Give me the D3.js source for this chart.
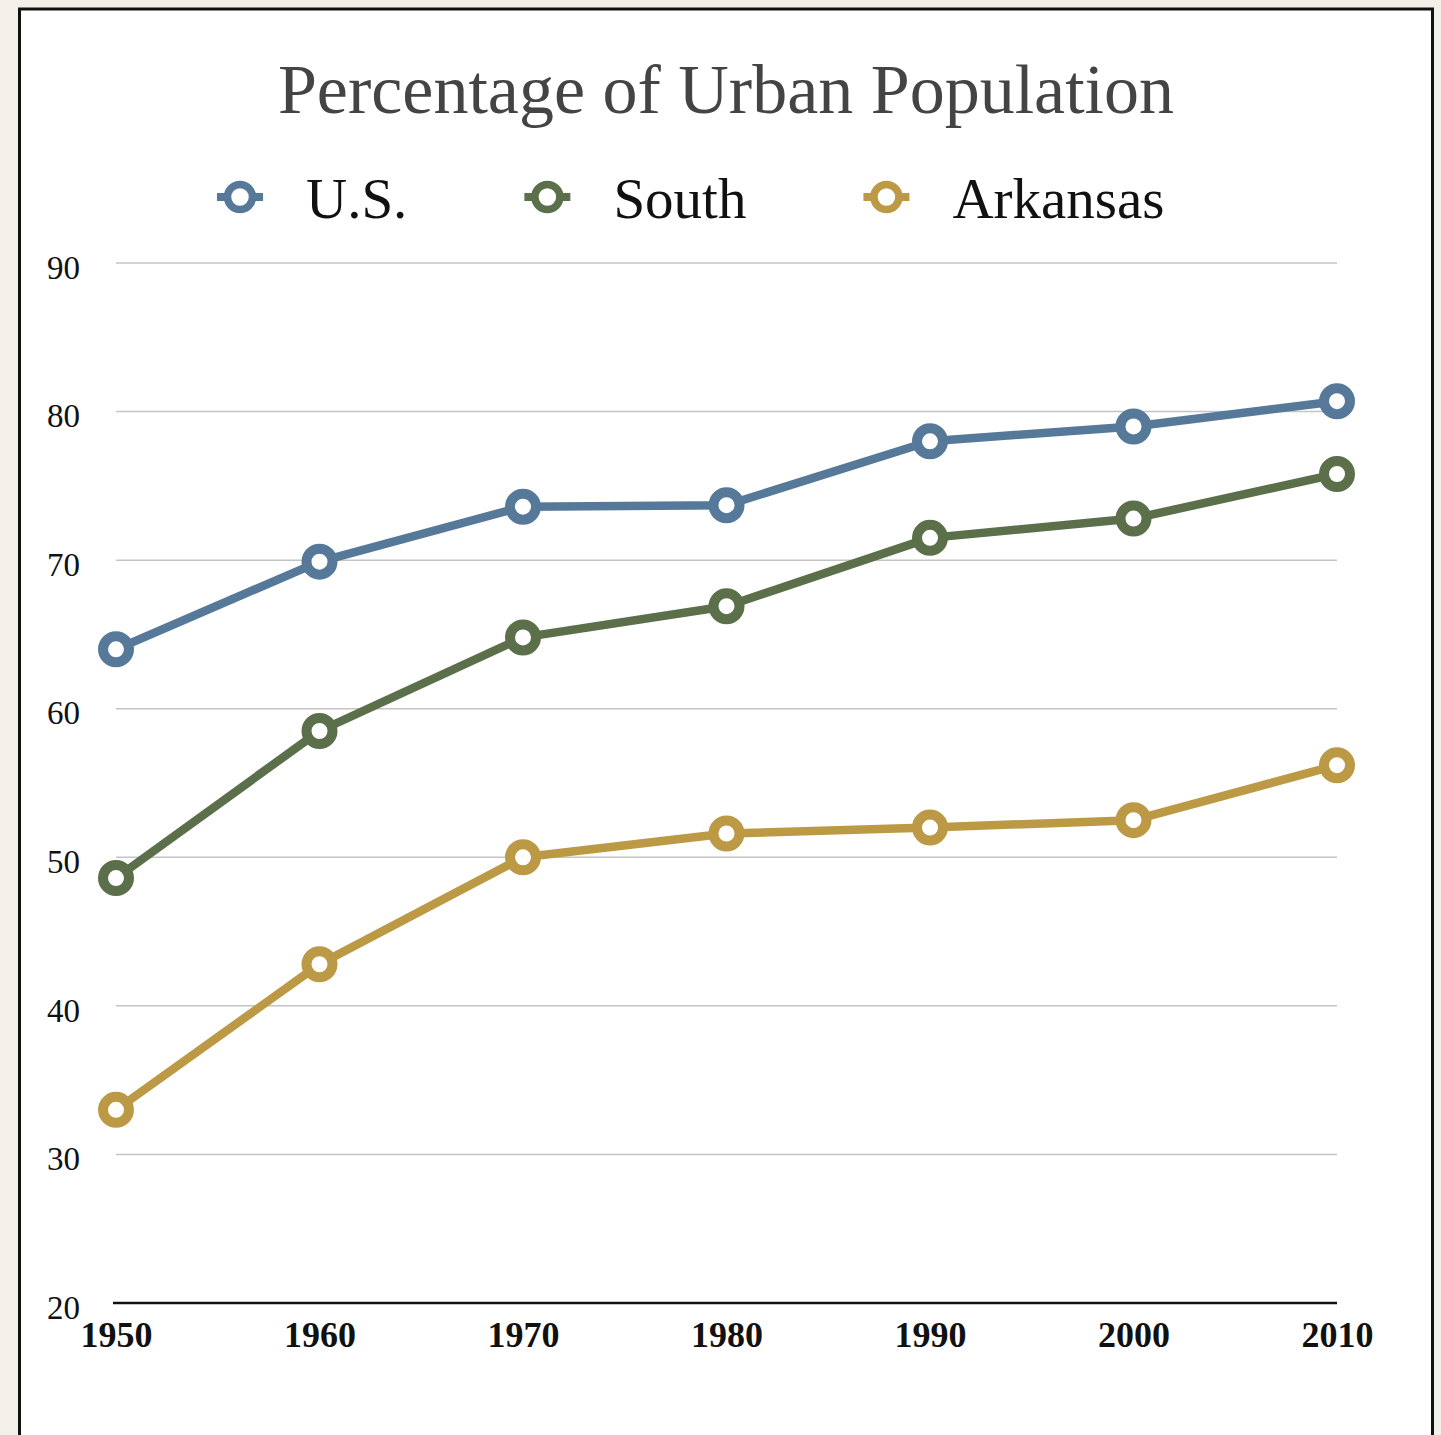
<!DOCTYPE html>
<html>
<head>
<meta charset="utf-8">
<script src="https://cdn.jsdelivr.net/npm/d3@7"></script>
<style>
    body { margin: 0; background: #f3f0e9; }
    svg { display: block; }
    text { font-family: "Liberation Serif", "Times New Roman", serif; }
</style>
</head>
<body>
<div id="chart"></div>
<script>
// Percentage of urban population, 1950 - 2010

const years = [1950, 1960, 1970, 1980, 1990, 2000, 2010];
const usValues = [64.0, 69.9, 73.6, 73.7, 78.0, 79.0, 80.7];
const southValues = [48.6, 58.5, 64.8, 66.9, 71.5, 72.8, 75.8];
const arkansasValues = [33.0, 42.8, 50.0, 51.6, 52.0, 52.5, 56.2];
const seriesNames = ["U.S.", "South", "Arkansas"];
const yTicks = [20, 30, 40, 50, 60, 70, 80, 90];
const titleText = "Percentage of Urban Population";

let width = 1441,
    height = 1435,
    plotLeft = 116,
    plotRight = 1337,
    plotTop = 263,
    plotBottom = 1303,
    lineWidth = 8.5,
    markerRadius = 13,
    markerStroke = 10;

let colors = ["#56799a", "#5a6f4a", "#bc9a45"];

let series = seriesNames.map((name, i) => ({
    name: name,
    color: colors[i],
    values: [usValues, southValues, arkansasValues][i].map((v, j) => ({ year: years[j], value: v }))
}));

let svg = d3.select("#chart").append("svg")
    .attr("width", width)
    .attr("height", height);

// Panel
// ---------------------------------------------------------

svg.append("rect")
    .attr("x", 19.5)
    .attr("y", 9)
    .attr("width", 1413)
    .attr("height", 1450)
    .attr("fill", "white")
    .attr("stroke", "#111")
    .attr("stroke-width", 3);

// Scales
// ---------------------------------------------------------

let x = d3.scaleLinear()
    .domain([years[0], years[years.length - 1]])
    .range([plotLeft, plotRight]);

let y = d3.scaleLinear()
    .domain([yTicks[0], yTicks[yTicks.length - 1]])
    .range([plotBottom, plotTop]);

// Gridlines
// ---------------------------------------------------------

svg.append("g")
    .attr("class", "grid")
    .selectAll("line")
    .data(yTicks.slice(1))
    .enter()
    .append("line")
        .attr("x1", plotLeft)
        .attr("x2", plotRight)
        .attr("y1", d => y(d))
        .attr("y2", d => y(d))
        .attr("stroke", "#c4c4c4")
        .attr("stroke-width", 1.5);

svg.append("line")
    .attr("x1", plotLeft - 3)
    .attr("x2", plotRight)
    .attr("y1", y(yTicks[0]))
    .attr("y2", y(yTicks[0]))
    .attr("stroke", "#111")
    .attr("stroke-width", 2.5);

// Axes
// ---------------------------------------------------------

let yAxis = svg.append("g")
    .attr("transform", `translate(${plotLeft},0)`)
    .call(d3.axisLeft(y).tickValues(yTicks).tickSize(0).tickPadding(36));

yAxis.select(".domain").remove();
yAxis.selectAll("text")
    .attr("font-family", "Liberation Serif")
    .attr("font-size", 33)
    .attr("fill", "#111")
    .attr("dy", "0.46em");

let xAxis = svg.append("g")
    .attr("transform", `translate(0,${plotBottom})`)
    .call(d3.axisBottom(x).tickValues(years).tickFormat(d3.format("d")).tickSize(0).tickPadding(18));

xAxis.select(".domain").remove();
xAxis.selectAll("text")
    .attr("font-family", "Liberation Serif")
    .attr("font-size", 36)
    .attr("font-weight", "bold")
    .attr("fill", "#111");

// Lines and markers
// ---------------------------------------------------------

let lineGen = d3.line()
    .x(d => x(d.year))
    .y(d => y(d.value));

let seriesGroups = svg.selectAll(".series")
    .data(series)
    .enter()
    .append("g")
        .attr("class", "series");

seriesGroups.append("path")
    .attr("d", d => lineGen(d.values))
    .attr("fill", "none")
    .attr("stroke", d => d.color)
    .attr("stroke-width", lineWidth)
    .attr("stroke-linejoin", "round");

seriesGroups.selectAll("circle")
    .data(d => d.values.map(v => ({ ...v, color: d.color })))
    .enter()
    .append("circle")
        .attr("cx", d => x(d.year))
        .attr("cy", d => y(d.value))
        .attr("r", markerRadius)
        .attr("fill", "white")
        .attr("stroke", d => d.color)
        .attr("stroke-width", markerStroke);

// Title
// ---------------------------------------------------------

svg.append("text")
    .attr("x", 726)
    .attr("y", 113)
    .attr("text-anchor", "middle")
    .attr("font-size", 70)
    .attr("fill", "#444")
    .text(titleText);

// Legend
// ---------------------------------------------------------

let legendY = 197,
    legendX = 240,
    legendTextGap = 66,
    legendItemGap = 140;

series.forEach(s => {
    let item = svg.append("g")
        .attr("class", "legendItem")
        .attr("transform", `translate(${legendX},${legendY})`);

    item.append("line")
        .attr("x1", -23)
        .attr("x2", 23)
        .attr("stroke", s.color)
        .attr("stroke-width", 8);

    item.append("circle")
        .attr("r", 12.5)
        .attr("fill", "white")
        .attr("stroke", s.color)
        .attr("stroke-width", 7.5);

    let label = item.append("text")
        .attr("x", legendTextGap)
        .attr("y", 21)
        .attr("font-size", 57)
        .attr("fill", "#111")
        .text(s.name);

    legendX += legendTextGap + label.node().getComputedTextLength() + legendItemGap;
});
</script>
</body>
</html>
